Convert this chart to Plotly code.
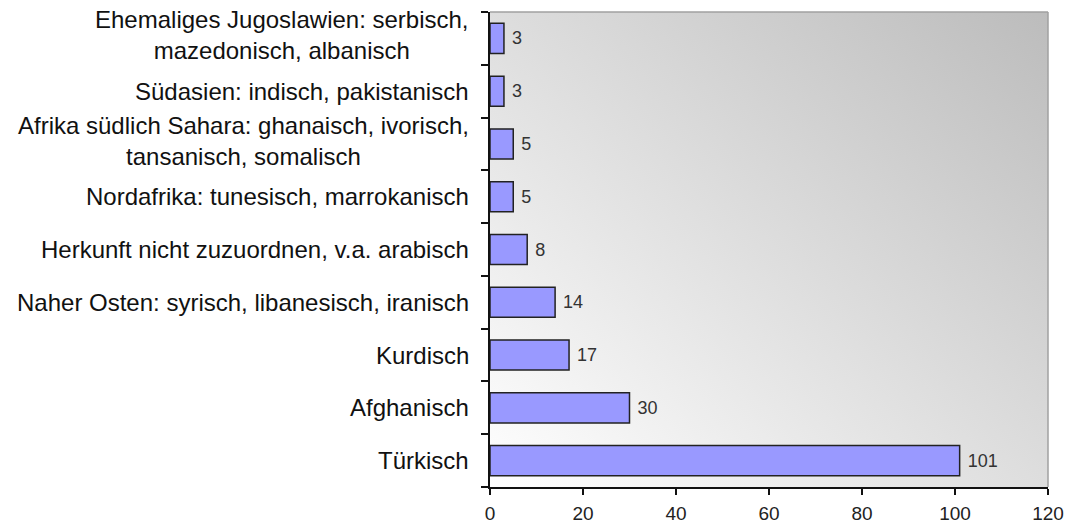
import base64
import plotly.graph_objects as go

categories = [
    "Türkisch",
    "Afghanisch",
    "Kurdisch ",
    "Naher Osten: syrisch, libanesisch, iranisch",
    "Herkunft nicht zuzuordnen, v.a. arabisch",
    "Nordafrika: tunesisch, marrokanisch",
    "Afrika südlich Sahara: ghanaisch, ivorisch,<br>tansanisch, somalisch",
    "Südasien: indisch, pakistanisch",
    "Ehemaliges Jugoslawien: serbisch,<br>mazedonisch, albanisch",
]
values = [101, 30, 17, 14, 8, 5, 5, 3, 3]
x_ticks = [0, 20, 40, 60, 80, 100, 120]

FONT = "Liberation Sans, Arial, sans-serif"

svg = (
    '<svg xmlns="http://www.w3.org/2000/svg" width="100" height="100" '
    'preserveAspectRatio="none" viewBox="0 0 100 100">'
    '<defs><linearGradient id="g" x1="0" y1="1" x2="1" y2="0">'
    '<stop offset="0" stop-color="#FFFFFF"/>'
    '<stop offset="1" stop-color="#BCBCBC"/>'
    '</linearGradient></defs>'
    '<rect x="0" y="0" width="100" height="100" fill="url(#g)"/></svg>'
)
bg_uri = "data:image/svg+xml;base64," + base64.b64encode(svg.encode()).decode()

fig = go.Figure()
fig.add_trace(go.Bar(
    y=categories,
    x=values,
    orientation="h",
    marker=dict(color="#9999FF", line=dict(color="#222222", width=1.5)),
    text=[f" {v}" for v in values],
    textposition="outside",
    textfont=dict(family=FONT, size=18, color="#333333"),
    cliponaxis=False,
    hoverinfo="x+y",
))

annotations = []
for c in categories:
    multi = "<br>" in c
    annotations.append(dict(
        xref="paper", yref="y", x=0, y=c, text=c.rstrip(),
        xanchor="right", yanchor="middle", align="center", xshift=-19,
        yshift=3 if multi else 0,
        showarrow=False,
        font=dict(family=FONT, size=24, color="#111111"),
    ))

fig.update_layout(
    width=1067, height=527,
    margin=dict(l=490, r=19, t=12, b=40, autoexpand=False),
    paper_bgcolor="white",
    plot_bgcolor="rgba(0,0,0,0)",
    bargap=0.43,
    showlegend=False,
    annotations=annotations,
    images=[dict(
        source=bg_uri, xref="paper", yref="paper", x=0, y=1,
        sizex=1, sizey=1, sizing="stretch", xanchor="left", yanchor="top",
        layer="below",
    )],
    shapes=[
        dict(type="line", xref="paper", yref="paper", x0=0, x1=1, y0=1, y1=1,
             line=dict(color="#A0A0A0", width=1.5)),
        dict(type="line", xref="paper", yref="paper", x0=1, x1=1, y0=0, y1=1,
             line=dict(color="#A0A0A0", width=1.5)),
    ],
    xaxis=dict(
        range=[0, 120], autorange=False,
        tickvals=x_ticks, ticktext=[str(t) for t in x_ticks],
        showgrid=False, zeroline=False, automargin=False,
        showline=True, linecolor="#111111", linewidth=1.5,
        ticks="outside", ticklen=6, tickcolor="#111111", tickwidth=1.5,
        tickfont=dict(family=FONT, size=19, color="#222222"),
        ticklabelstandoff=2,
        fixedrange=True,
    ),
    yaxis=dict(
        type="category", categoryorder="array", categoryarray=categories,
        range=[-0.5, len(categories) - 0.5], autorange=False,
        showgrid=False, zeroline=False, automargin=False,
        showline=True, linecolor="#111111", linewidth=1.5,
        ticks="outside", ticklen=7, tickcolor="#111111", tickwidth=1.5,
        tickson="boundaries",
        showticklabels=False,
        fixedrange=True,
    ),
)

fig.write_html(
    "out.html",
    config={"displayModeBar": False},
    post_script="document.body.style.margin='0';",
)
